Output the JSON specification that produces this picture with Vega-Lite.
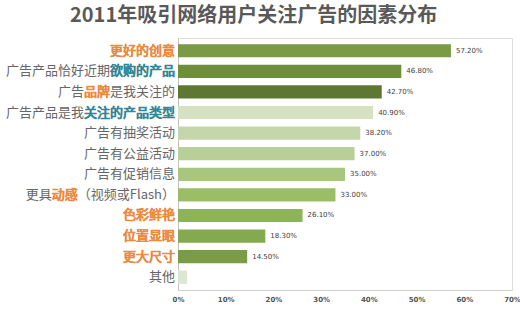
{
  "$schema": "https://vega.github.io/schema/vega-lite/v6.json",
  "autosize": {"type": "none"},
  "padding": {"left": 178, "top": 38, "right": 8, "bottom": 36},
  "width": 334,
  "height": 252,
  "background": "white",
  "title": {
    "text": "2011年吸引网络用户关注广告的因素分布",
    "anchor": "start",
    "dx": 64,
    "offset": 12,
    "font": "Noto Sans CJK SC",
    "fontSize": 20,
    "fontWeight": "bold",
    "color": "#595959"
  },
  "data": {
    "values": [
      {"factor": "更好的创意", "value": 0.572, "hl": "更好的创意", "tail": "", "kind": "orange"},
      {"factor": "广告产品恰好近期欲购的产品", "value": 0.468, "hl": "欲购的产品", "tail": "", "kind": "teal"},
      {"factor": "广告品牌是我关注的", "value": 0.427, "hl": "品牌是我关注的", "tail": "是我关注的", "kind": "orange"},
      {"factor": "广告产品是我关注的产品类型", "value": 0.409, "hl": "关注的产品类型", "tail": "", "kind": "teal"},
      {"factor": "广告有抽奖活动", "value": 0.382, "hl": "", "tail": "", "kind": "none"},
      {"factor": "广告有公益活动", "value": 0.37, "hl": "", "tail": "", "kind": "none"},
      {"factor": "广告有促销信息", "value": 0.35, "hl": "", "tail": "", "kind": "none"},
      {"factor": "更具动感（视频或Flash）", "value": 0.33, "hl": "动感（视频或Flash）", "tail": "（视频或Flash）", "kind": "orange"},
      {"factor": "色彩鲜艳", "value": 0.261, "hl": "色彩鲜艳", "tail": "", "kind": "orange"},
      {"factor": "位置显眼", "value": 0.183, "hl": "位置显眼", "tail": "", "kind": "orange"},
      {"factor": "更大尺寸", "value": 0.145, "hl": "更大尺寸", "tail": "", "kind": "orange"},
      {"factor": "其他", "value": 0.019, "hl": "", "tail": "", "kind": "none"}
    ]
  },
  "encoding": {
    "y": {
      "field": "factor",
      "type": "nominal",
      "sort": null,
      "scale": {"paddingInner": 0.36, "paddingOuter": 0.3},
      "axis": {"labels": false, "ticks": false, "title": null, "domainColor": "#bfbfbf", "domainWidth": 1}
    }
  },
  "layer": [
    {
      "mark": {"type": "bar"},
      "encoding": {
        "x": {
          "field": "value",
          "type": "quantitative",
          "scale": {"domain": [0, 0.7], "nice": false},
          "axis": {
            "values": [0, 0.1, 0.2, 0.3, 0.4, 0.5, 0.6, 0.7],
            "format": ".0%",
            "grid": false,
            "ticks": false,
            "title": null,
            "domainColor": "#d0d0d0",
            "labelFont": "DejaVu Sans",
            "labelFontSize": 7,
            "labelFontWeight": "bold",
            "labelColor": "#555555",
            "labelPadding": 5,
            "labelFlush": false
          }
        },
        "color": {
          "field": "factor",
          "type": "nominal",
          "legend": null,
          "scale": {
            "domain": ["更好的创意", "广告产品恰好近期欲购的产品", "广告品牌是我关注的", "广告产品是我关注的产品类型", "广告有抽奖活动", "广告有公益活动", "广告有促销信息", "更具动感（视频或Flash）", "色彩鲜艳", "位置显眼", "更大尺寸", "其他"],
            "range": ["#7b9a45", "#6f8e3c", "#5e7833", "#d5e1c0", "#c5d6ab", "#b8cf97", "#a9c67f", "#9bbd66", "#8db458", "#84a94e", "#7a9c46", "#dce6d2"]
          }
        }
      }
    },
    {
      "transform": [{"filter": "datum.factor != '其他'"}],
      "mark": {"type": "text", "align": "left", "dx": 5, "font": "DejaVu Sans", "fontSize": 7, "color": "#404040"},
      "encoding": {
        "x": {"field": "value", "type": "quantitative"},
        "text": {"field": "value", "type": "quantitative", "format": ".2%"}
      }
    },
    {
      "mark": {"type": "text", "align": "right", "dx": -3, "font": "Noto Sans CJK SC", "fontSize": 13, "color": "#666666"},
      "encoding": {
        "x": {"datum": 0, "type": "quantitative"},
        "text": {"field": "factor"}
      }
    },
    {
      "transform": [{"filter": "datum.hl != ''"}],
      "mark": {"type": "text", "align": "right", "dx": -3, "font": "Noto Sans CJK SC", "fontSize": 13, "strokeWidth": 0.7},
      "encoding": {
        "x": {"datum": 0, "type": "quantitative"},
        "text": {"field": "hl"},
        "color": {"condition": {"test": "datum.kind == 'teal'", "value": "#2f8797"}, "value": "#f08a3c"},
        "stroke": {"condition": {"test": "datum.kind == 'teal'", "value": "#2f8797"}, "value": "#f08a3c"}
      }
    },
    {
      "transform": [{"filter": "datum.tail != ''"}],
      "mark": {"type": "text", "align": "right", "dx": -3, "font": "Noto Sans CJK SC", "fontSize": 13, "color": "white", "stroke": "white", "strokeWidth": 2},
      "encoding": {
        "x": {"datum": 0, "type": "quantitative"},
        "text": {"field": "tail"}
      }
    },
    {
      "transform": [{"filter": "datum.tail != ''"}],
      "mark": {"type": "text", "align": "right", "dx": -3, "font": "Noto Sans CJK SC", "fontSize": 13, "color": "#666666"},
      "encoding": {
        "x": {"datum": 0, "type": "quantitative"},
        "text": {"field": "tail"}
      }
    }
  ]
}
